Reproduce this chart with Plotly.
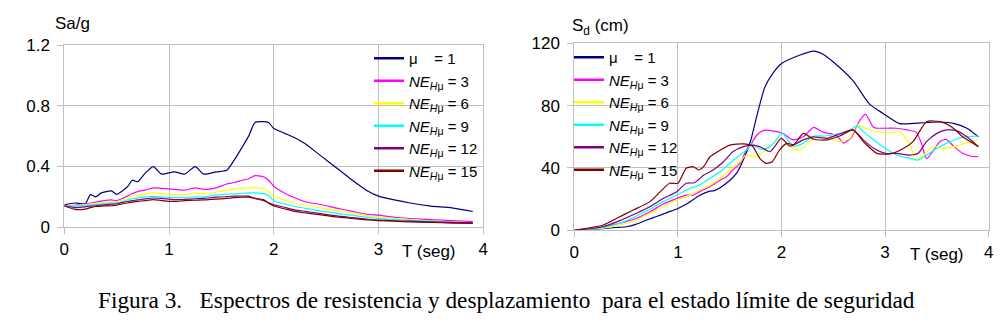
import plotly.graph_objects as go

# ---------------- Left chart: Sa/g ----------------
t_sa = [0, 0.1, 0.2, 0.25, 0.3, 0.35, 0.45, 0.5, 0.6, 0.65, 0.7, 0.77, 0.85, 0.93,
        1.05, 1.15, 1.25, 1.33, 1.45, 1.55, 1.62, 1.7, 1.76, 1.82, 1.9, 1.95, 2.0,
        2.1, 2.2, 2.3, 2.45, 2.6, 2.75, 2.9, 3.0, 3.15, 3.3, 3.5, 3.7, 3.9]
sa_mu1 = [0.148, 0.16, 0.155, 0.215, 0.20, 0.225, 0.24, 0.218, 0.265, 0.31, 0.30, 0.355, 0.40, 0.35,
          0.365, 0.35, 0.40, 0.35, 0.365, 0.375, 0.44, 0.53, 0.60, 0.69, 0.695, 0.69, 0.65,
          0.62, 0.59, 0.55, 0.47, 0.39, 0.31, 0.237, 0.205, 0.18, 0.16, 0.14, 0.128, 0.104]
sa_ne3 = [0.142, 0.145, 0.155, 0.16, 0.166, 0.172, 0.18, 0.176, 0.205, 0.222, 0.235, 0.245, 0.26, 0.256,
          0.25, 0.245, 0.26, 0.25, 0.26, 0.285, 0.295, 0.31, 0.32, 0.34, 0.333, 0.31, 0.27,
          0.226, 0.195, 0.168, 0.15, 0.126, 0.105, 0.085, 0.08, 0.066, 0.058, 0.05, 0.044, 0.037]
sa_ne6 = [0.14, 0.142, 0.15, 0.153, 0.157, 0.162, 0.166, 0.166, 0.193, 0.202, 0.21, 0.22, 0.226, 0.222,
          0.215, 0.215, 0.226, 0.22, 0.232, 0.245, 0.25, 0.255, 0.26, 0.26, 0.255, 0.235, 0.205,
          0.18, 0.16, 0.145, 0.128, 0.11, 0.092, 0.075, 0.068, 0.058, 0.05, 0.043, 0.036, 0.03]
sa_ne9 = [0.14, 0.138, 0.145, 0.148, 0.15, 0.155, 0.16, 0.16, 0.18, 0.188, 0.193, 0.2, 0.204, 0.2,
          0.195, 0.196, 0.2, 0.2, 0.212, 0.218, 0.22, 0.224, 0.226, 0.226, 0.222, 0.21, 0.175,
          0.155, 0.137, 0.125, 0.106, 0.092, 0.078, 0.065, 0.058, 0.05, 0.045, 0.04, 0.035, 0.03]
sa_ne12 = [0.14, 0.13, 0.135, 0.14, 0.142, 0.146, 0.152, 0.155, 0.17, 0.176, 0.18, 0.187, 0.193, 0.19,
           0.182, 0.184, 0.188, 0.19, 0.198, 0.202, 0.205, 0.206, 0.205, 0.19, 0.175, 0.162, 0.148,
           0.132, 0.115, 0.105, 0.09, 0.075, 0.064, 0.053, 0.048, 0.043, 0.04, 0.036, 0.033, 0.03]
sa_ne15 = [0.14, 0.118, 0.12, 0.13, 0.137, 0.14, 0.142, 0.146, 0.16, 0.166, 0.17, 0.176, 0.182, 0.176,
           0.17, 0.175, 0.178, 0.18, 0.186, 0.19, 0.195, 0.198, 0.198, 0.19, 0.182, 0.16, 0.14,
           0.122, 0.105, 0.095, 0.082, 0.068, 0.058, 0.048, 0.044, 0.04, 0.036, 0.032, 0.028, 0.026]

# ---------------- Right chart: Sd (cm) ----------------
t_sd_mu1 = [0, 0.2, 0.4, 0.5, 0.6, 0.7, 0.8, 0.9, 1.0, 1.1, 1.2, 1.3, 1.35, 1.4, 1.5, 1.57, 1.63,
            1.7, 1.76, 1.84, 1.92, 2.0, 2.18, 2.31, 2.4, 2.5, 2.69, 2.85, 2.98, 3.14, 3.37,
            3.53, 3.67, 3.79, 3.9]
sd_mu1 = [0, 0.8, 1.8, 2.3, 4, 6.6, 9, 11.5, 14, 17.5, 22, 25, 25.5, 27, 32, 37, 45,
          57, 73, 92, 101, 107, 112.5, 115, 113, 108, 96, 81, 75, 68.5, 69,
          69.5, 68.5, 65.5, 60]

t_sd_ne3 = [0, 0.28, 0.44, 0.6, 0.73, 0.86, 0.99, 1.08, 1.15, 1.21, 1.31, 1.41, 1.47, 1.53, 1.6,
            1.66, 1.71, 1.76, 1.82, 1.9, 2.02, 2.11, 2.21, 2.31, 2.4, 2.53, 2.6, 2.68, 2.73,
            2.81, 2.89, 3.0, 3.11, 3.21, 3.3, 3.35, 3.4, 3.47, 3.53, 3.59, 3.66, 3.75, 3.82, 3.9]
sd_ne3 = [0, 2.3, 4.5, 7.7, 11.9, 16.9, 20.5, 22.6, 22.6, 24.8, 28, 32.3, 34.4, 38.7, 43,
          51.5, 55.8, 61, 64, 64, 62, 58, 60, 66, 63, 61, 56, 60, 67.6,
          74.5, 66, 65.5, 65.5, 64.4, 63, 56, 46, 51.5, 57, 58.4, 54, 49.4, 47.7, 47.2]

t_sd_ne6 = [0, 0.28, 0.44, 0.6, 0.73, 0.86, 0.99, 1.12, 1.21, 1.31, 1.41, 1.5, 1.6, 1.66, 1.76,
            1.86, 1.92, 1.99, 2.08, 2.18, 2.27, 2.37, 2.47, 2.56, 2.66, 2.73, 2.79, 2.92,
            3.05, 3.14, 3.24, 3.3, 3.37, 3.47, 3.56, 3.69, 3.82, 3.9]
sd_ne6 = [0, 1.3, 3.4, 6.6, 10.9, 15.1, 19.4, 22.6, 25.9, 29, 33.4, 38.7, 44, 48.3, 47.2,
          52.6, 55.8, 59, 53.7, 51.5, 56.9, 60, 59, 56.9, 59, 67.6, 66, 63.3,
          62.6, 63.3, 54.7, 45.1, 48.3, 53.7, 52.6, 54, 56.9, 58]

t_sd_ne9 = [0, 0.28, 0.44, 0.6, 0.73, 0.86, 0.99, 1.12, 1.21, 1.31, 1.41, 1.5, 1.6, 1.68, 1.71,
            1.8, 1.89, 1.95, 2.0, 2.05, 2.11, 2.21, 2.31, 2.42, 2.53, 2.66, 2.73, 2.79, 2.89,
            3.0, 3.11, 3.24, 3.32, 3.4, 3.5, 3.63, 3.75, 3.9]
sd_ne9 = [0, 1.9, 4.5, 9.2, 13.5, 18.4, 22.6, 27, 29, 33.4, 37.6, 43, 48.3, 52.6, 55.8,
          52, 53.7, 58, 62.6, 59, 54, 55.8, 60.5, 60.5, 61.8, 64.4, 67, 63.3, 58,
          52.6, 48.3, 46.2, 45.1, 48.3, 52.6, 56.9, 59.7, 60.5]

t_sd_ne12 = [0, 0.28, 0.44, 0.6, 0.73, 0.86, 0.99, 1.08, 1.16, 1.25, 1.34, 1.44, 1.53, 1.63,
             1.71, 1.79, 1.89, 2.0, 2.08, 2.21, 2.31, 2.44, 2.56, 2.69, 2.79, 2.89, 3.0,
             3.11, 3.24, 3.32, 3.4, 3.5, 3.59, 3.69, 3.79, 3.9]
sd_ne12 = [0, 2.3, 6.2, 10.9, 15.1, 20.5, 24.8, 30.2, 30.5, 35.5, 38.7, 44, 50.4, 53.7,
           54.7, 53.7, 50.4, 59, 54, 58, 60, 59, 61.8, 64.4, 58, 52.6, 49.4,
           49.4, 48.3, 49.4, 56.9, 62.2, 64.4, 64, 60, 53.7]

t_sd_ne15 = [0, 0.28, 0.41, 0.57, 0.73, 0.83, 0.92, 1.0, 1.08, 1.15, 1.2, 1.25, 1.31, 1.41, 1.5,
             1.63, 1.72, 1.79, 1.85, 1.91, 1.98, 2.05, 2.12, 2.21, 2.31, 2.44, 2.56, 2.69,
             2.79, 2.92, 3.05, 3.18, 3.27, 3.4, 3.53, 3.64, 3.75, 3.9]
sd_ne15 = [0, 3.4, 7.7, 13, 18.4, 24.8, 30.2, 30.2, 39.8, 40.8, 38.7, 41, 47.2, 51.5, 54.7,
           55.4, 54, 46.2, 43, 44, 51.5, 55.8, 55, 62.2, 58.4, 58, 60.5, 64.4,
           56.9, 49.4, 49, 52.6, 56.9, 69.7, 69.7, 66.5, 60, 53.7]

names = ["\u03bc\u00a0\u00a0\u00a0 = 1",
         "<i>NE</i><sub><i>H</i>\u03bc</sub> = 3",
         "<i>NE</i><sub><i>H</i>\u03bc</sub> = 6",
         "<i>NE</i><sub><i>H</i>\u03bc</sub> = 9",
         "<i>NE</i><sub><i>H</i>\u03bc</sub> = 12",
         "<i>NE</i><sub><i>H</i>\u03bc</sub> = 15"]
colors = ["#000080", "#ff00ff", "#ffff00", "#00ffff", "#800080", "#800000"]

sa_series = [sa_mu1, sa_ne3, sa_ne6, sa_ne9, sa_ne12, sa_ne15]
sd_series = [(t_sd_mu1, sd_mu1), (t_sd_ne3, sd_ne3), (t_sd_ne6, sd_ne6),
             (t_sd_ne9, sd_ne9), (t_sd_ne12, sd_ne12), (t_sd_ne15, sd_ne15)]

FONT = "Liberation Sans, Arial, sans-serif"
GRID = "#bfbfbf"
W, H = 1008, 334

fig = go.Figure()
for nm, col, ys in zip(names, colors, sa_series):
    fig.add_trace(go.Scatter(x=t_sa, y=ys, mode="lines", name=nm, showlegend=False,
                             line=dict(color=col, width=1.2, shape="spline", smoothing=0.6),
                             xaxis="x", yaxis="y"))
for nm, col, (ts, ys) in zip(names, colors, sd_series):
    fig.add_trace(go.Scatter(x=ts, y=ys, mode="lines", name=nm, showlegend=False,
                             line=dict(color=col, width=1.2, shape="spline", smoothing=0.6),
                             xaxis="x2", yaxis="y2"))
# legend keys (thicker strokes, as in the original legends)
for leg, xa, ya in (("legend", "x", "y"), ("legend2", "x2", "y2")):
    for nm, col in zip(names, colors):
        fig.add_trace(go.Scatter(x=[None], y=[None], mode="lines", name=nm, showlegend=True,
                                 line=dict(color=col, width=2.5),
                                 xaxis=xa, yaxis=ya, legend=leg, hoverinfo="skip"))

def px_x(p):
    return p / W

def px_y(p):
    return 1 - p / H

axis_common = dict(showgrid=True, gridcolor=GRID, gridwidth=1, showline=True, linecolor=GRID,
                   linewidth=1, mirror=True, ticks="outside", ticklen=6, tickcolor=GRID,
                   tickfont=dict(family=FONT, size=17, color="black"), zeroline=False,
                   automargin=False, fixedrange=True)

fig.update_layout(
    width=W, height=H, autosize=False,
    margin=dict(l=0, r=0, t=0, b=0, pad=0),
    paper_bgcolor="white", plot_bgcolor="white",
    font=dict(family=FONT, size=17, color="black"),
    xaxis=dict(domain=[px_x(64.3), px_x(483.3)], range=[0, 4], tickvals=[0, 1, 2, 3, 4],
               anchor="y", **axis_common),
    yaxis=dict(domain=[px_y(227.3), px_y(45)], range=[0, 1.2], tickvals=[0, 0.4, 0.8, 1.2],
               ticktext=["0", "0.4", "0.8", "1.2"], anchor="x", ticklabelstandoff=4, **axis_common),
    xaxis2=dict(domain=[px_x(574.3), px_x(988.7)], range=[0, 4], tickvals=[0, 1, 2, 3, 4],
                anchor="y2", **axis_common),
    yaxis2=dict(domain=[px_y(230.3), px_y(43.3)], range=[0, 120], tickvals=[0, 40, 80, 120],
                anchor="x2", ticklabelstandoff=4, **axis_common),
    legend=dict(x=px_x(369), y=px_y(42), xanchor="left", yanchor="top",
                bgcolor="rgba(0,0,0,0)", borderwidth=0,
                font=dict(family=FONT, size=15, color="black"), traceorder="normal"),
    legend2=dict(x=px_x(569), y=px_y(41), xanchor="left", yanchor="top",
                 bgcolor="rgba(0,0,0,0)", borderwidth=0,
                 font=dict(family=FONT, size=15, color="black"), traceorder="normal"),
    showlegend=True,
)

lbl_font = dict(family=FONT, size=17, color="black")
annotations = [
    dict(text="Sa/g", x=px_x(72), y=px_y(23), xref="paper", yref="paper",
         xanchor="center", yanchor="middle", showarrow=False, font=lbl_font),
    dict(text="S<sub>d</sub> (cm)", x=px_x(600), y=px_y(27), xref="paper", yref="paper",
         xanchor="center", yanchor="middle", showarrow=False, font=lbl_font),
    dict(text="T (seg)", x=3.48, y=px_y(251), xref="x", yref="paper",
         xanchor="center", yanchor="middle", showarrow=False, font=lbl_font),
    dict(text="T (seg)", x=3.5, y=px_y(254), xref="x2", yref="paper",
         xanchor="center", yanchor="middle", showarrow=False, font=lbl_font),
    dict(text="Figura 3.\u00a0\u00a0\u00a0Espectros de resistencia y desplazamiento\u00a0 para el estado l\u00edmite de seguridad",
         x=px_x(506), y=px_y(300), xref="paper", yref="paper", showarrow=False,
         xanchor="center", yanchor="middle",
         font=dict(family="Liberation Serif, Times New Roman, serif", size=23.3, color="black")),
]
fig.update_layout(annotations=annotations)

fig.write_html("out.html", config={"displayModeBar": False},
               post_script="document.body.style.margin='0';document.body.style.padding='0';")
